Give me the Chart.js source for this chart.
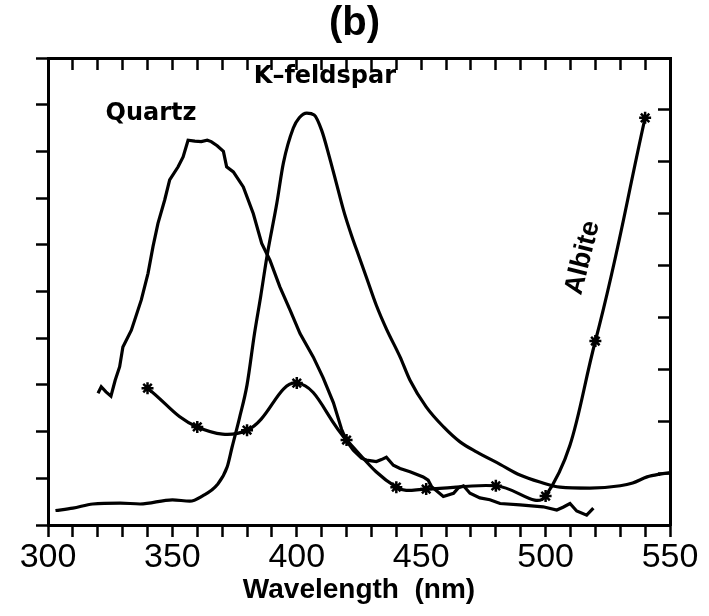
<!DOCTYPE html>
<html>
<head>
<meta charset="utf-8">
<script src="https://cdn.jsdelivr.net/npm/chart.js@4.4.0/dist/chart.umd.min.js"></script>
<style>
  html, body { margin: 0; padding: 0; background: #fff; }
</style>
</head>
<body>
<canvas id="grafico" width="709" height="616"></canvas>
<script>
// wavelength (nm) and relative intensity
const quartzNm  = [320.1, 321.4, 323.3, 325.3, 327, 328.8, 330.1, 333.5, 337.5, 340.2, 342.2, 344.2, 346.9, 348.9, 352.3, 354.3, 356.3, 359, 361.6, 364, 365.6, 368, 370.5, 371.8, 374.5, 378.5, 382.5, 385.9, 389.2, 393.2, 397.3, 401.3, 406.6, 410.6, 414.7, 418, 420, 422.7, 426, 428, 432, 434, 436, 438.8, 441.5, 445.5, 450.8, 452.8, 454.2, 458.9, 463, 465, 467, 469.6, 473.6, 477.6, 481.7, 489.7, 499, 504.5, 507, 509.8, 512.5, 516.5, 519.2];
const quartzInt = [2.82, 2.96, 2.85, 2.76, 3.1, 3.39, 3.81, 4.17, 4.82, 5.39, 5.96, 6.46, 6.96, 7.39, 7.67, 7.88, 8.24, 8.22, 8.21, 8.24, 8.21, 8.12, 8.0, 7.67, 7.56, 7.24, 6.67, 6.03, 5.67, 5.1, 4.6, 4.1, 3.6, 3.15, 2.62, 2.05, 1.8, 1.6, 1.43, 1.39, 1.36, 1.4, 1.45, 1.28, 1.21, 1.14, 1.03, 0.96, 0.82, 0.61, 0.68, 0.8, 0.84, 0.68, 0.58, 0.54, 0.46, 0.43, 0.39, 0.32, 0.38, 0.46, 0.3, 0.21, 0.36];

const kfeldNm  = [303, 310, 318, 329, 337, 350, 357, 362, 368, 372, 374, 377, 380, 383, 385.5, 388, 392, 394.6, 398.6, 401, 404, 407, 410, 413, 416, 419, 422, 425, 428, 432, 436, 441.5, 445.5, 452, 459, 465.6, 472.4, 481.7, 489.7, 497.7, 505.8, 517.8, 530, 535, 540.8, 546, 550];
const kfeldInt = [0.31, 0.36, 0.45, 0.47, 0.45, 0.54, 0.51, 0.62, 0.86, 1.24, 1.67, 2.3, 3.0, 4.1, 4.9, 5.75, 6.9, 7.75, 8.5, 8.72, 8.82, 8.78, 8.45, 7.9, 7.3, 6.7, 6.2, 5.75, 5.3, 4.7, 4.2, 3.6, 3.1, 2.53, 2.1, 1.78, 1.56, 1.3, 1.07, 0.92, 0.81, 0.79, 0.84, 0.9, 1.03, 1.09, 1.12];

const albiteNm  = [340, 360, 380, 400, 420, 440, 452, 480, 500, 520, 540];
const albiteInt = [2.93, 2.10, 2.03, 3.04, 1.82, 0.81, 0.77, 0.84, 0.62, 3.94, 8.72];

const pares = (xs, ys) => xs.map((n, i) => ({x: n, y: ys[i]}));

// curve names written on the plot
const etiquetas = {
  id: 'etiquetas',
  afterDatasetsDraw(chart) {
    const {ctx, scales: {x, y}} = chart;
    ctx.save();
    ctx.fillStyle = '#000';
    ctx.textAlign = 'center';
    ctx.textBaseline = 'middle';
    ctx.font = 'bold 24px "DejaVu Sans"';
    ctx.fillText('Quartz', x.getPixelForValue(341.4), y.getPixelForValue(8.8));
    ctx.fillText('K–feldspar', x.getPixelForValue(411.3), y.getPixelForValue(9.59));
    ctx.font = 'bold 27px "Liberation Sans"';
    ctx.translate(x.getPixelForValue(515), y.getPixelForValue(5.72));
    ctx.rotate(-76 * Math.PI / 180);
    ctx.fillText('Albite', 0, 0);
    ctx.restore();
  }
};

const marco = {color: '#000', width: 3};
const rejilla = (largo) => ({drawOnChartArea: false, drawTicks: true, tickLength: largo, tickWidth: 2.5, color: '#000'});

let config = {
  type: 'line',
  data: {
    datasets: [
      {
        label: 'Quartz',
        data: pares(quartzNm, quartzInt),
        borderColor: '#000',
        borderWidth: 3.2,
        pointRadius: 0,
        tension: 0,
      },
      {
        label: 'K-feldspar',
        data: pares(kfeldNm, kfeldInt),
        borderColor: '#000',
        borderWidth: 3.2,
        pointRadius: 0,
        cubicInterpolationMode: 'monotone',
      },
      {
        label: 'Albite',
        data: pares(albiteNm, albiteInt),
        borderColor: '#000',
        borderWidth: 3.2,
        tension: 0.4,
        pointStyle: 'star',
        pointRadius: 6,
        pointBorderWidth: 2.5,
        pointBorderColor: '#000',
        pointBackgroundColor: '#000',
      },
    ]
  },
  options: {
    responsive: false,
    animation: false,
    layout: {padding: 0},
    plugins: {
      legend: {display: false},
      tooltip: {enabled: false},
      title: {
        display: true,
        text: '(b)',
        color: '#000',
        font: {family: 'Liberation Sans', size: 40, weight: 'bold'},
        padding: {top: 0, bottom: 0},
      },
    },
    scales: {
      x: {
        type: 'linear', position: 'bottom', min: 300, max: 550,
        ticks: {
          stepSize: 10, autoSkip: false, maxRotation: 0, padding: 0, color: '#000',
          font: {family: 'Liberation Sans', size: 34},
          callback: v => (v % 50 === 0 ? v : ''),
        },
        grid: rejilla(12),
        border: marco,
        title: {
          display: true, text: 'Wavelength  (nm)', color: '#000',
          font: {family: 'Liberation Sans', size: 28, weight: 'bold'},
          padding: {top: 0, bottom: 9},
        },
        afterFit: s => { s.height = 91; },
      },
      x2: {
        type: 'linear', position: 'top', min: 300, max: 550,
        ticks: {stepSize: 10, display: false},
        grid: rejilla(-12),
        border: marco,
        afterFit: s => { s.height = 10; },
      },
      y: {
        type: 'linear', position: 'left', min: 0, max: 10,
        ticks: {stepSize: 1, display: false},
        grid: rejilla(12),
        border: marco,
        afterFit: s => { s.width = 48; },
      },
      y2: {
        type: 'linear', position: 'right', min: 0, max: 9, display: true,
        ticks: {stepSize: 1, display: false},
        grid: rejilla(-12),
        border: marco,
        afterFit: s => { s.width = 39; },
      },
    }
  },
  plugins: [etiquetas]
};

let grafico = new Chart(document.getElementById('grafico'), config);
</script>
</body>
</html>
